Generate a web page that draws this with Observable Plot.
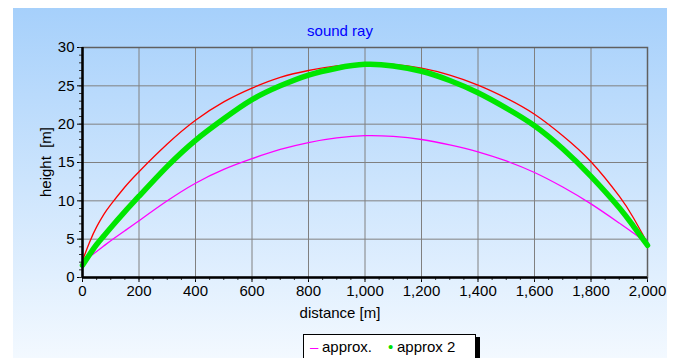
<!DOCTYPE html>
<html><head>
<meta charset="utf-8">
<script src="https://cdn.jsdelivr.net/npm/d3@7"></script>
<script src="https://cdn.jsdelivr.net/npm/@observablehq/plot@0.6"></script>
<style>
body{margin:0;background:#fff;}
#wrap{position:relative;width:678px;height:358px;overflow:hidden;font-family:"Liberation Sans",Arial,sans-serif;}
#panel{position:absolute;left:13px;top:8px;width:654px;height:360px;background:linear-gradient(#a6d0fb,#f5faff);}
#chart{position:absolute;left:0;top:0;}
#title{position:absolute;left:13px;width:654px;top:22px;text-align:center;color:#0000ff;font-size:15px;}
#xlabel{position:absolute;left:13px;width:654px;top:304px;text-align:center;color:#000;font-size:15px;}
#ylabel{position:absolute;left:45px;top:162px;transform:translate(-50%,-50%) rotate(-90deg);white-space:pre;font-size:15px;color:#000;}
#legend{position:absolute;left:303px;top:334px;width:171px;height:30px;background:#fff;border:1px solid #000;box-shadow:4px 3px 0 #000;font-size:15px;white-space:nowrap;}
#legend span{position:absolute;top:3px;}
</style>
</head><body>
<div id="wrap">
  <div id="panel"></div>
  <div id="chart"></div>
  <div id="title">sound ray</div>
  <div id="xlabel">distance [m]</div>
  <div id="ylabel">height  [m]</div>
  <div id="legend"></div>
</div>
<script>
const distance = [0, 25, 50, 75, 100, 150, 200, 300, 400, 500, 600, 700, 800, 900, 1000, 1100, 1200, 1300, 1400, 1500, 1600, 1700, 1800, 1900, 1950, 2000];
const exactHeight = [2.2, 4.6, 6.6, 8.2, 9.5, 11.8, 13.8, 17.4, 20.5, 22.9, 24.7, 26.1, 27.0, 27.6, 27.9, 27.8, 27.3, 26.4, 25.1, 23.4, 21.3, 18.5, 15.1, 10.6, 7.8, 4.5];
const approxHeight = [2.0, 2.7, 3.4, 4.1, 4.8, 6.1, 7.4, 10.0, 12.3, 14.1, 15.5, 16.7, 17.6, 18.2, 18.5, 18.4, 18.0, 17.3, 16.4, 15.2, 13.7, 11.8, 9.6, 7.1, 5.8, 4.4];
const approx2Height = [1.6, 3.0, 4.3, 5.4, 6.5, 8.6, 10.6, 14.5, 17.9, 20.7, 23.2, 25.0, 26.4, 27.3, 27.8, 27.6, 26.9, 25.7, 24.1, 22.1, 19.8, 16.8, 13.2, 9.1, 6.7, 4.2];
const xTicks = [0, 200, 400, 600, 800, 1000, 1200, 1400, 1600, 1800, 2000];
const xMinor = d3.range(0, 2001, 50);
const yTicks = [0, 5, 10, 15, 20, 25, 30];
const yMinor = d3.range(0, 31, 1);
const legendItems = [
  {symbol: "–", label: "approx.", color: "#ff00ff"},
  {symbol: "•", label: "approx 2", color: "#00e000"}
];

const rows = (ys) => distance.map((d, i) => ({x: d, y: ys[i]}));

const chart = Plot.plot({
  width: 678, height: 358,
  marginLeft: 82, marginRight: 31, marginTop: 47, marginBottom: 81,
  style: {background: "transparent", fontFamily: "'Liberation Sans', Arial, sans-serif", fontSize: "15px", color: "#000"},
  x: {domain: [0, 2000]},
  y: {domain: [0, 30]},
  marks: [
    Plot.gridX(xTicks, {stroke: "#808080", strokeOpacity: 1}),
    Plot.gridY(yTicks, {stroke: "#808080", strokeOpacity: 1}),
    Plot.frame({stroke: "#606060", strokeWidth: 1.5}),
    Plot.line(rows(exactHeight), {x: "x", y: "y", stroke: "#ff0000", strokeWidth: 1.3, curve: "natural"}),
    Plot.line(rows(approxHeight), {x: "x", y: "y", stroke: "#ff00ff", strokeWidth: 1.3, curve: "natural"}),
    Plot.line(rows(approx2Height), {x: "x", y: "y", stroke: "#00e600", strokeWidth: 5.5, curve: "natural"}),
    Plot.axisX(xTicks, {tickFormat: d3.format(","), tickSize: 5, tickPadding: 3, label: null, stroke: "#000"}),
    Plot.axisX(xMinor, {text: null, tickSize: 3, label: null, stroke: "#333"}),
    Plot.axisY(yTicks, {tickSize: 5, tickPadding: 3, label: null, stroke: "#000"}),
    Plot.axisY(yMinor, {text: null, tickSize: 3, label: null, stroke: "#333"}),
    Plot.ruleX([0], {stroke: "#000", strokeWidth: 2.5}),
    Plot.ruleY([0], {stroke: "#000", strokeWidth: 2.5})
  ]
});
document.getElementById("chart").appendChild(chart);

const legend = document.getElementById("legend");
const pos = [[6, 18], [84, 93]];
legendItems.forEach((it, i) => {
  const s = document.createElement("span");
  s.style.left = pos[i][0] + "px";
  s.style.color = it.color;
  s.textContent = it.symbol;
  legend.appendChild(s);
  const t = document.createElement("span");
  t.style.left = pos[i][1] + "px";
  t.textContent = it.label;
  legend.appendChild(t);
});
</script>
</body></html>
